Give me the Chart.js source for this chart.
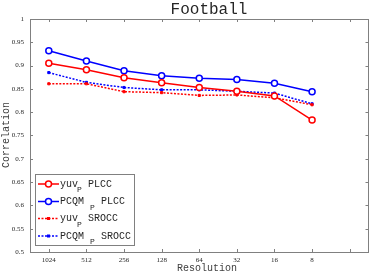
<!DOCTYPE html>
<html>
<head>
<meta charset="utf-8">
<script src="https://cdn.jsdelivr.net/npm/chart.js@4"></script>
<style>
  html, body { margin: 0; padding: 0; background: #fff; }
  canvas { display: block; }
</style>
</head>
<body>
<canvas id="chart" width="374" height="274"></canvas>
<script>
const resolutions = ["1024", "512", "256", "128", "64", "32", "16", "8"];
const yuvPlcc = [0.905, 0.891, 0.874, 0.863, 0.853, 0.845, 0.835, 0.783];
const pcqmPlcc = [0.932, 0.910, 0.889, 0.878, 0.873, 0.870, 0.862, 0.844];
const yuvSrocc = [0.861, 0.861, 0.844, 0.842, 0.836, 0.837, 0.831, 0.816];
const pcqmSrocc = [0.885, 0.864, 0.853, 0.848, 0.848, 0.845, 0.841, 0.818];

const RED = "#ff0000";
const BLUE = "#0000ff";

function toPoints(values) {
  return values.map(function (v, i) { return { x: i + 1, y: v }; });
}

// inward tick marks, full box, titles and the tex-style legend
const decor = {
  id: "decor",
  afterDraw: function (chart) {
    const ctx = chart.ctx;
    const a = chart.chartArea;
    const xs = chart.scales.x;
    const ys = chart.scales.y;
    ctx.save();
    ctx.strokeStyle = "#808080";
    ctx.lineWidth = 1;
    ctx.beginPath();
    for (let i = 1; i <= 9; i++) {
      const px = Math.round(xs.getPixelForValue(i)) + 0.5;
      ctx.moveTo(px, a.bottom); ctx.lineTo(px, a.bottom - 3);
      ctx.moveTo(px, a.top); ctx.lineTo(px, a.top + 3);
    }
    for (let v = 0.5; v <= 1.0001; v += 0.05) {
      const py = Math.round(ys.getPixelForValue(v)) + 0.5;
      ctx.moveTo(a.left, py); ctx.lineTo(a.left + 3, py);
      ctx.moveTo(a.right, py); ctx.lineTo(a.right - 3, py);
    }
    ctx.stroke();
    ctx.strokeRect(Math.round(a.left) + 0.5, Math.round(a.top) + 0.5,
      Math.round(a.right - a.left) - 1, Math.round(a.bottom - a.top));

    // titles
    ctx.fillStyle = "#262626";
    ctx.textAlign = "center";
    ctx.textBaseline = "middle";
    ctx.font = "16px 'Liberation Mono', monospace";
    ctx.fillText("Football", 209, 10);
    ctx.fillStyle = "#404040";
    ctx.font = "10px 'Liberation Mono', monospace";
    ctx.fillText("Resolution", 207, 268);
    ctx.translate(6, 135);
    ctx.rotate(-Math.PI / 2);
    ctx.fillText("Correlation", 0, 0);
    ctx.restore();

    // legend
    ctx.save();
    ctx.fillStyle = "#fff";
    ctx.fillRect(35, 174, 99, 72);
    ctx.strokeStyle = "#808080";
    ctx.lineWidth = 1;
    ctx.strokeRect(35.5, 174.5, 99, 71);
    const rows = [
      { ds: 0, y: 184, name: "yuv", sub: 77, metric: "PLCC", mx: 88 },
      { ds: 1, y: 201.5, name: "PCQM", sub: 90, metric: "PLCC", mx: 101 },
      { ds: 2, y: 218.5, name: "yuv", sub: 77, metric: "SROCC", mx: 88 },
      { ds: 3, y: 236, name: "PCQM", sub: 90, metric: "SROCC", mx: 101 }
    ];
    rows.forEach(function (r) {
      const ds = chart.data.datasets[r.ds];
      ctx.strokeStyle = ds.borderColor;
      ctx.lineWidth = ds.borderWidth;
      ctx.setLineDash(ds.borderDash || []);
      ctx.beginPath();
      ctx.moveTo(38, r.y); ctx.lineTo(59, r.y);
      ctx.stroke();
      ctx.setLineDash([]);
      if (ds.pointStyle === "circle") {
        ctx.fillStyle = "#fff";
        ctx.beginPath();
        ctx.arc(48.5, r.y, ds.pointRadius, 0, Math.PI * 2);
        ctx.fill();
        ctx.stroke();
      } else {
        ctx.fillStyle = ds.borderColor;
        ctx.fillRect(47, r.y - 1.5, 3, 3);
      }
      ctx.fillStyle = "#262626";
      ctx.textAlign = "left";
      ctx.textBaseline = "middle";
      ctx.font = "10px 'Liberation Mono', monospace";
      ctx.fillText(r.name, 60, r.y);
      ctx.fillText(r.metric, r.mx, r.y);
      ctx.font = "8px 'Liberation Mono', monospace";
      ctx.fillText("P", r.sub, r.y + 6);
    });
    ctx.restore();
  }
};

new Chart(document.getElementById("chart").getContext("2d"), {
  type: "line",
  data: {
    datasets: [
      {
        label: "yuv_P PLCC",
        data: toPoints(yuvPlcc),
        borderColor: RED,
        backgroundColor: "#fff",
        borderWidth: 1.5,
        pointStyle: "circle",
        pointRadius: 3,
        pointBorderWidth: 1.5
      },
      {
        label: "PCQM_P PLCC",
        data: toPoints(pcqmPlcc),
        borderColor: BLUE,
        backgroundColor: "#fff",
        borderWidth: 1.5,
        pointStyle: "circle",
        pointRadius: 3,
        pointBorderWidth: 1.5
      },
      {
        label: "yuv_P SROCC",
        data: toPoints(yuvSrocc),
        borderColor: RED,
        backgroundColor: RED,
        borderWidth: 1.5,
        borderDash: [2, 1.5],
        pointStyle: "rect",
        pointRadius: 1.5,
        pointBorderWidth: 1
      },
      {
        label: "PCQM_P SROCC",
        data: toPoints(pcqmSrocc),
        borderColor: BLUE,
        backgroundColor: BLUE,
        borderWidth: 1.5,
        borderDash: [2, 1.5],
        pointStyle: "rect",
        pointRadius: 1.5,
        pointBorderWidth: 1
      }
    ]
  },
  options: {
    responsive: false,
    animation: false,
    devicePixelRatio: 1,
    layout: { padding: { top: 19, right: 2, left: 0, bottom: 0 } },
    plugins: { legend: { display: false }, tooltip: { enabled: false } },
    scales: {
      x: {
        type: "linear",
        min: 0.5,
        max: 9.5,
        afterBuildTicks: function (scale) {
          scale.ticks = [1, 2, 3, 4, 5, 6, 7, 8, 9].map(function (v) { return { value: v }; });
        },
        afterFit: function (scale) { scale.height = 22; },
        grid: { display: false, drawTicks: false },
        border: { display: false },
        ticks: {
          padding: 4,
          maxRotation: 0,
          autoSkip: false,
          color: "#262626",
          font: { family: "'Liberation Serif', serif", size: 7 },
          callback: function (v) { return resolutions[v - 1] || ""; }
        }
      },
      y: {
        min: 0.5,
        max: 1,
        afterBuildTicks: function (scale) {
          const t = [];
          for (let i = 0; i <= 10; i++) t.push({ value: +(0.5 + i * 0.05).toFixed(2) });
          scale.ticks = t;
        },
        afterFit: function (scale) { scale.width = 30; },
        grid: { display: false, drawTicks: false },
        border: { display: false },
        ticks: {
          padding: 6,
          color: "#262626",
          font: { family: "'Liberation Serif', serif", size: 7 },
          callback: function (v) { return String(+v.toFixed(2)); }
        }
      }
    }
  },
  plugins: [decor]
});
</script>
</body>
</html>
